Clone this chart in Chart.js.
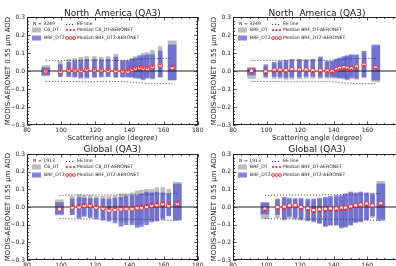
<!DOCTYPE html>
<html><head><meta charset="utf-8">
<script src="https://cdn.jsdelivr.net/npm/chart.js@4.4.0/dist/chart.umd.min.js"></script>
<style>
html,body{margin:0;padding:0;background:#fff;width:396px;height:266px;overflow:hidden;position:relative}
canvas{position:absolute}
</style></head><body>
<canvas id="tl" width="205" height="145" style="left:0;top:0;width:205px;height:145px"></canvas>
<canvas id="tr" width="205" height="145" style="left:206px;top:0;width:205px;height:145px"></canvas>
<canvas id="bl" width="205" height="140" style="left:0;top:140px;width:205px;height:140px"></canvas>
<canvas id="br" width="205" height="140" style="left:206px;top:140px;width:205px;height:140px"></canvas>
<script>
// ---------------- data ----------------
// North America (QA3), N = 3249
const naAngles      = [91, 99.5, 104.5, 108, 111.5, 115, 119.5, 123.5, 127.5, 132, 136, 139, 141.5, 143.5, 146, 148, 150.5, 153.5, 158, 165];
const naBrfDt2Low   = [-0.022, -0.03, -0.03, -0.032, -0.036, -0.034, -0.033, -0.03, -0.03, -0.033, -0.032, -0.032, -0.033, -0.036, -0.038, -0.045, -0.035, -0.04, -0.032, -0.05];
const naBrfDt2High  = [0.018, 0.035, 0.048, 0.055, 0.06, 0.065, 0.065, 0.062, 0.065, 0.078, 0.055, 0.055, 0.065, 0.072, 0.08, 0.085, 0.09, 0.09, 0.11, 0.145];
const naBrfDt2Med   = [0.0, -0.004, 0.005, 0.005, 0.002, 0.009, 0.006, 0.006, 0.002, 0.002, 0.0, -0.002, 0.009, 0.015, 0.019, 0.015, 0.013, 0.024, 0.033, 0.019];
const naC6Low       = [-0.028, -0.031, -0.031, -0.035, -0.041, -0.041, -0.035, -0.035, -0.031, -0.035, -0.035, -0.035, -0.035, -0.041, -0.041, -0.05, -0.041, -0.046, -0.035, -0.05];
const naC6High      = [0.03, 0.052, 0.065, 0.07, 0.076, 0.08, 0.08, 0.076, 0.08, 0.094, 0.061, 0.061, 0.07, 0.08, 0.089, 0.098, 0.102, 0.115, 0.135, 0.167];
const naC6Med       = [0.002, 0.0, 0.008, 0.008, 0.005, 0.011, 0.009, 0.009, 0.005, 0.006, 0.003, 0.002, 0.012, 0.018, 0.022, 0.018, 0.016, 0.027, 0.036, 0.025];
const naBrfDtLow    = [-0.042, -0.04, -0.04, -0.042, -0.046, -0.045, -0.043, -0.04, -0.04, -0.042, -0.04, -0.04, -0.04, -0.042, -0.045, -0.05, -0.042, -0.046, -0.038, -0.06];
const naBrfDtHigh   = [0.012, 0.024, 0.04, 0.045, 0.05, 0.055, 0.058, 0.058, 0.06, 0.07, 0.05, 0.05, 0.06, 0.065, 0.072, 0.078, 0.085, 0.085, 0.1, 0.135];
const naBrfDtMed    = [-0.01, -0.012, -0.004, -0.003, -0.006, 0.0, -0.002, -0.002, -0.005, -0.005, -0.006, -0.008, 0.003, 0.01, 0.014, 0.01, 0.008, 0.018, 0.028, 0.014];
const naEE          = [0.058, 0.058, 0.059, 0.059, 0.059, 0.06, 0.06, 0.059, 0.059, 0.059, 0.059, 0.06, 0.062, 0.064, 0.066, 0.067, 0.068, 0.069, 0.07, 0.07];

// Global (QA3), N = 1913
const glAngles      = [99, 106.5, 110.5, 113.5, 117, 120.5, 124.5, 128, 131.5, 135, 138, 141.5, 144.5, 147, 150, 153, 156, 159.5, 163, 168];
const glBrfDt2Low   = [-0.04, -0.043, -0.065, -0.053, -0.06, -0.068, -0.075, -0.08, -0.09, -0.108, -0.1, -0.1, -0.115, -0.11, -0.1, -0.085, -0.08, -0.07, -0.05, -0.075];
const glBrfDt2High  = [0.025, 0.045, 0.055, 0.05, 0.048, 0.048, 0.045, 0.045, 0.05, 0.055, 0.06, 0.065, 0.065, 0.075, 0.085, 0.08, 0.085, 0.08, 0.075, 0.13];
const glBrfDt2Med   = [-0.012, -0.002, 0.0, 0.008, 0.01, -0.002, -0.008, -0.02, -0.015, -0.012, -0.01, -0.01, -0.005, -0.005, 0.002, 0.008, 0.012, 0.018, 0.008, 0.02];
const glC6Low       = [-0.045, -0.04, -0.055, -0.045, -0.05, -0.055, -0.06, -0.065, -0.07, -0.085, -0.085, -0.085, -0.1, -0.095, -0.085, -0.075, -0.07, -0.06, -0.045, -0.07];
const glC6High      = [0.04, 0.06, 0.07, 0.065, 0.065, 0.06, 0.06, 0.06, 0.065, 0.075, 0.075, 0.08, 0.09, 0.095, 0.1, 0.1, 0.11, 0.11, 0.1, 0.14];
const glC6Med       = [0.0, 0.005, 0.008, 0.015, 0.015, 0.005, 0.0, -0.01, -0.005, -0.002, 0.0, 0.0, 0.005, 0.005, 0.01, 0.015, 0.02, 0.025, 0.015, 0.025];
const glBrfDtLow    = [-0.065, -0.06, -0.075, -0.065, -0.07, -0.075, -0.08, -0.085, -0.095, -0.11, -0.105, -0.105, -0.12, -0.115, -0.105, -0.09, -0.085, -0.075, -0.06, -0.065];
const glBrfDtHigh   = [0.02, 0.035, 0.045, 0.04, 0.04, 0.04, 0.035, 0.035, 0.04, 0.045, 0.05, 0.055, 0.055, 0.065, 0.075, 0.07, 0.075, 0.07, 0.065, 0.145];
const glBrfDtMed    = [-0.02, -0.012, -0.01, -0.004, -0.002, -0.012, -0.018, -0.028, -0.025, -0.022, -0.02, -0.02, -0.015, -0.015, -0.008, -0.002, 0.002, 0.008, -0.002, 0.01];
const glEE          = [0.066, 0.067, 0.068, 0.068, 0.068, 0.068, 0.068, 0.068, 0.068, 0.069, 0.069, 0.069, 0.07, 0.07, 0.071, 0.072, 0.073, 0.074, 0.075, 0.076];

// axes
const xAxisMin = 80, xAxisMax = 180, xAxisStep = 20;
const yAxisMin = -0.3, yAxisMax = 0.3, yAxisStep = 0.1;

// ---------------- style ----------------
const FONT = '"DejaVu Sans", "Liberation Sans", sans-serif';
const TXT = '#1a1a1a';
const GRAY = '#bdbdbd';
const BLUE = 'rgba(85,85,215,0.72)';
const RED = '#e3262b';

const mpl = {
  id: 'mpl',
  afterDatasetsDraw(chart, args, o) {
    const {ctx, chartArea: a} = chart;
    const xs = chart.scales.x, ys = chart.scales.y;
    ctx.save();
    ctx.strokeStyle = '#222'; ctx.lineWidth = 0.8;
    ctx.beginPath();
    const xMinor = xAxisStep / 4;
    for (let v = xs.min; v <= xs.max + 1e-9; v += xMinor) {
      const px = Math.round(xs.getPixelForValue(v)) + 0.5;
      const major = Math.abs(((v - xs.min) / xAxisStep) - Math.round((v - xs.min) / xAxisStep)) < 1e-6;
      const len = major ? 3.5 : 2;
      ctx.moveTo(px, a.bottom); ctx.lineTo(px, a.bottom - len);
      ctx.moveTo(px, a.top); ctx.lineTo(px, a.top + len);
    }
    const yMinor = yAxisStep / 5;
    const n = Math.round((ys.max - ys.min) / yMinor);
    for (let k = 0; k <= n; k++) {
      const v = ys.min + k * yMinor;
      const py = Math.round(ys.getPixelForValue(v)) + 0.5;
      const len = (k % 5 === 0) ? 3.5 : 2;
      ctx.moveTo(a.left, py); ctx.lineTo(a.left + len, py);
      ctx.moveTo(a.right, py); ctx.lineTo(a.right - len, py);
    }
    ctx.stroke();
    ctx.strokeStyle = '#222'; ctx.lineWidth = 1;
    ctx.strokeRect(Math.round(a.left) + 0.5, Math.round(a.top) + 0.5, Math.round(a.right - a.left) - 1, Math.round(a.bottom - a.top) - 1);

    // title
    ctx.fillStyle = TXT;
    ctx.font = `9px ${FONT}`;
    ctx.textAlign = 'center'; ctx.textBaseline = 'alphabetic';
    ctx.fillText(o.title, (a.left + a.right) / 2, a.top - o.titleGap);

    // legend
    const L = a.left, T = a.top;
    ctx.font = `4.6px ${FONT}`;
    ctx.textAlign = 'left'; ctx.textBaseline = 'middle';
    ctx.fillText(o.nText, L + 6, T + 7);
    ctx.fillStyle = GRAY; ctx.fillRect(L + 5, T + 10.5, 9, 5);
    ctx.fillStyle = BLUE; ctx.fillRect(L + 5, T + 18.5, 9, 5);
    ctx.fillStyle = TXT;
    ctx.fillText(o.grayLabel, L + 17, T + 13);
    ctx.fillText(o.blueLabel, L + 17, T + 21);
    ctx.strokeStyle = '#333'; ctx.lineWidth = 1; ctx.setLineDash([1, 2]);
    ctx.beginPath(); ctx.moveTo(L + 39, T + 7.5); ctx.lineTo(L + 48, T + 7.5); ctx.stroke();
    ctx.setLineDash([]);
    ctx.fillText('EE line', L + 50, T + 7);
    ctx.fillText(o.grayMedLabel, L + 50, T + 13);
    ctx.fillText(o.blueMedLabel, L + 50, T + 21);
    [40, 43.5, 47].forEach(dx => {
      ctx.fillStyle = RED;
      ctx.beginPath(); ctx.arc(L + dx, T + 13, 1.1, 0, Math.PI * 2); ctx.fill();
      ctx.fillStyle = '#ffe4e4'; ctx.strokeStyle = RED; ctx.lineWidth = 0.8;
      ctx.beginPath(); ctx.arc(L + dx, T + 21, 1.5, 0, Math.PI * 2); ctx.fill(); ctx.stroke();
    });
    ctx.restore();
  }
};

function tickLabel(v) {
  const s = Math.abs(v) < 1e-9 ? '0.0' : Number(v).toFixed(1);
  return s.replace('-', '\u2212');
}

function panel(id, p) {
  const angles = p.angles, last = angles.length - 1;
  const rng = (lo, hi) => angles.map((a, i) => ({x: a, y: [lo[i], hi[i]]}));
  const narrow = arr => arr.filter((_, i) => i > 0 && i < last);
  const wide = arr => arr.filter((_, i) => i === 0 || i === last);
  const pts = v => angles.map((a, i) => ({x: a, y: v[i]}));
  const g = rng(p.grayLo, p.grayHi), b = rng(p.blueLo, p.blueHi);
  const barBase = {type: 'bar', grouped: false, borderWidth: 0};
  new Chart(document.getElementById(id), {
    type: 'bar',
    data: {
      datasets: [
        {...barBase, data: narrow(g), backgroundColor: GRAY, barThickness: 4, order: 9},
        {...barBase, data: wide(g), backgroundColor: GRAY, barThickness: 8, order: 9},
        {...barBase, data: narrow(b), backgroundColor: BLUE, barThickness: 4, order: 8},
        {...barBase, data: wide(b), backgroundColor: BLUE, barThickness: 8, order: 8},
        {type: 'line', data: angles.map((a, i) => ({x: a, y: p.ee[i]})), borderColor: '#333', borderWidth: 1, borderDash: [1, 2], pointRadius: 0, tension: 0, order: 7},
        {type: 'line', data: angles.map((a, i) => ({x: a, y: -p.ee[i]})), borderColor: '#333', borderWidth: 1, borderDash: [1, 2], pointRadius: 0, tension: 0, order: 7},
        {type: 'line', data: [{x: xAxisMin, y: 0}, {x: xAxisMax, y: 0}], borderColor: '#222', borderWidth: 1, pointRadius: 0, order: 6},
        {type: 'line', data: pts(p.blueMed), showLine: false, pointRadius: 2.2, pointBorderWidth: 0.9, pointBorderColor: RED, pointBackgroundColor: '#ffe4e4', order: 5},
        {type: 'line', data: pts(p.grayMed), showLine: false, pointRadius: 1.1, pointBorderWidth: 0, pointBackgroundColor: RED, pointBorderColor: RED, order: 4}
      ]
    },
    options: {
      responsive: false, animation: false, devicePixelRatio: 1,
      layout: {padding: {top: p.padTop, right: p.padRight, left: 0, bottom: 0}},
      plugins: {
        legend: {display: false}, tooltip: {enabled: false},
        mpl: {title: p.title, titleGap: p.titleGap, nText: p.nText, grayLabel: p.grayLabel, blueLabel: 'BRF_DT2',
              grayMedLabel: p.grayMedLabel, blueMedLabel: 'Median BRF_DT2-AERONET'}
      },
      scales: {
        x: {
          type: 'linear', min: xAxisMin, max: xAxisMax, offset: false,
          grid: {display: false, drawTicks: false, offset: false}, border: {display: false},
          ticks: {stepSize: xAxisStep, padding: 1.5, autoSkip: false, maxRotation: 0, color: TXT, font: {size: 6, family: FONT}},
          title: {display: true, text: 'Scattering angle (degree)', color: TXT, font: {size: 7, family: FONT}, padding: {top: 0, bottom: 3}},
          afterFit(s) { s.height = 20; }
        },
        y: {
          type: 'linear', min: yAxisMin, max: yAxisMax,
          grid: {display: false, drawTicks: false}, border: {display: false},
          ticks: {stepSize: yAxisStep, padding: 2, autoSkip: false, color: TXT, font: {size: 6, family: FONT}, callback: v => tickLabel(v)},
          title: {display: true, text: 'MODIS-AERONET 0.55 \u03bcm AOD', color: TXT, font: {size: 7, family: FONT}, padding: {top: 4, bottom: 0}},
          afterFit(s) { s.width = 27; }
        }
      }
    },
    plugins: [mpl]
  });
}

panel('tl', {angles: naAngles, grayLo: naC6Low, grayHi: naC6High, grayMed: naC6Med,
  blueLo: naBrfDt2Low, blueHi: naBrfDt2High, blueMed: naBrfDt2Med, ee: naEE,
  title: 'North  America (QA3)', titleGap: 1.5, padTop: 17, padRight: 7, nText: 'N = 3249',
  grayLabel: 'C6_DT', grayMedLabel: 'Median C6_DT-AERONET'});
panel('tr', {angles: naAngles, grayLo: naBrfDtLow, grayHi: naBrfDtHigh, grayMed: naBrfDtMed,
  blueLo: naBrfDt2Low, blueHi: naBrfDt2High, blueMed: naBrfDt2Med, ee: naEE,
  title: 'North  America (QA3)', titleGap: 1.5, padTop: 17, padRight: 10, nText: 'N = 3249',
  grayLabel: 'BRF_DT', grayMedLabel: 'Median BRF_DT-AERONET'});
panel('bl', {angles: glAngles, grayLo: glC6Low, grayHi: glC6High, grayMed: glC6Med,
  blueLo: glBrfDt2Low, blueHi: glBrfDt2High, blueMed: glBrfDt2Med, ee: glEE,
  title: 'Global (QA3)', titleGap: 2.5, padTop: 14, padRight: 7, nText: 'N = 1913',
  grayLabel: 'C6_DT', grayMedLabel: 'Median C6_DT-AERONET'});
panel('br', {angles: glAngles, grayLo: glBrfDtLow, grayHi: glBrfDtHigh, grayMed: glBrfDtMed,
  blueLo: glBrfDt2Low, blueHi: glBrfDt2High, blueMed: glBrfDt2Med, ee: glEE,
  title: 'Global (QA3)', titleGap: 2.5, padTop: 14, padRight: 10, nText: 'N = 1913',
  grayLabel: 'BRF_DT', grayMedLabel: 'Median BRF_DT-AERONET'});
</script>
</body></html>
